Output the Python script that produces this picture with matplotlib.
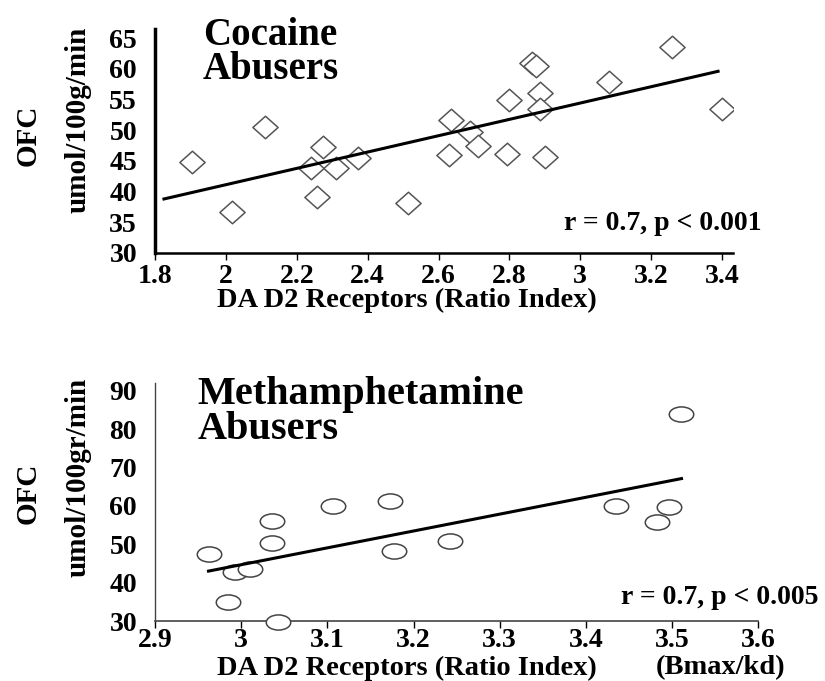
import numpy as np
import matplotlib
matplotlib.use("Agg")
import matplotlib.pyplot as plt
from matplotlib.path import Path
from matplotlib.transforms import Affine2D

plt.rcParams['font.family'] = ['Liberation Serif', 'DejaVu Serif']
plt.rcParams['font.weight'] = 'bold'

#%% data
coc_x = [1.905, 2.017, 2.11, 2.24, 2.275, 2.256, 2.31, 2.373, 2.515,
         2.635, 2.629, 2.69, 2.712, 2.793, 2.798, 2.865, 2.875, 2.885,
         2.885, 2.9, 3.08, 3.258, 3.4]
coc_y = [44.8, 36.6, 50.6, 43.9, 47.3, 39.1, 43.8, 45.5, 38.2,
         51.7, 45.9, 49.7, 47.5, 46.1, 54.9, 61.0, 60.5, 56.0,
         53.4, 45.6, 57.8, 63.6, 53.4]
coc_fit_x = [1.825, 3.389]
coc_fit_y = [38.8, 59.6]
coc_xticks = [1.8, 2, 2.2, 2.4, 2.6, 2.8, 3, 3.2, 3.4]
coc_yticks = [30, 35, 40, 45, 50, 55, 60, 65]

meth_x = [2.962, 2.993, 3.01, 2.985, 3.043, 3.036, 3.036, 3.107, 3.173,
          3.177, 3.242, 3.435, 3.482, 3.496, 3.511]
meth_y = [47.4, 42.7, 43.5, 34.9, 29.7, 50.3, 56.0, 59.9, 61.2,
          48.2, 50.8, 59.9, 55.7, 59.6, 83.8]
meth_fit_x = [2.962, 3.511]
meth_fit_y = [43.0, 67.1]
meth_xticks = [2.9, 3, 3.1, 3.2, 3.3, 3.4, 3.5, 3.6]
meth_yticks = [30, 40, 50, 60, 70, 80, 90]

# marker shapes
diamond = Path([(0, 1), (1.12, 0), (0, -1), (-1.12, 0), (0, 1)],
               [Path.MOVETO, Path.LINETO, Path.LINETO, Path.LINETO, Path.CLOSEPOLY])
ellipse = Path.unit_circle().transformed(Affine2D().scale(1.0, 0.62))

fig = plt.figure(figsize=(8.25, 6.81), dpi=100)

#%% cocaine panel
ax1 = fig.add_axes([0.188, 0.6285, 0.70, 0.329])
ax1.scatter(coc_x, coc_y, marker=diamond, s=330, facecolors='white',
            edgecolors='#555555', linewidths=1.1, zorder=3)
ax1.plot(coc_fit_x, coc_fit_y, color='black', lw=2.2, zorder=4)
ax1.set_xlim(1.8, 3.43)
ax1.set_ylim(30, 66.5)
ax1.set_xticks(coc_xticks)
ax1.set_xticklabels([f"{v:g}" for v in coc_xticks])
ax1.set_yticks(coc_yticks)
ax1.spines['top'].set_visible(False)
ax1.spines['right'].set_visible(False)
ax1.spines['left'].set_linewidth(2.5)
ax1.spines['bottom'].set_linewidth(1.8)
ax1.tick_params(axis='y', length=0, labelsize=20, pad=13)
ax1.tick_params(axis='x', length=5, width=1, direction='out', labelsize=20, pad=3)
ax1.text(0.20, 1.055, "Cocaine\nAbusers", transform=ax1.transAxes, fontsize=28,
         fontweight='bold', va='top', ha='center', linespacing=0.92, clip_on=False)
ax1.text(1.05, 0.13, "r = 0.7, p < 0.001", transform=ax1.transAxes, fontsize=20,
         fontweight='bold', ha='right', va='center')

#%% methamphetamine panel
ax2 = fig.add_axes([0.188, 0.0881, 0.731, 0.3495])
ax2.scatter(meth_x, meth_y, marker=ellipse, s=310, facecolors='white',
            edgecolors='#444444', linewidths=1.1, zorder=3, clip_on=False)
ax2.plot(meth_fit_x, meth_fit_y, color='black', lw=2.2, zorder=4)
ax2.set_xlim(2.9, 3.6)
ax2.set_ylim(30, 92)
ax2.set_xticks(meth_xticks)
ax2.set_xticklabels([f"{v:g}" for v in meth_xticks])
ax2.set_yticks(meth_yticks)
ax2.spines['top'].set_visible(False)
ax2.spines['right'].set_visible(False)
ax2.spines['left'].set_linewidth(1.0)
ax2.spines['left'].set_color('#444444')
ax2.spines['bottom'].set_linewidth(1.2)
ax2.spines['bottom'].set_color('#444444')
ax2.tick_params(axis='y', length=0, labelsize=20, pad=13)
ax2.tick_params(axis='x', length=5, width=1, direction='out', labelsize=20, pad=0)
ax2.text(0.07, 1.03, "Methamphetamine\nAbusers", transform=ax2.transAxes, fontsize=29,
         fontweight='bold', va='top', ha='left', linespacing=0.92)
ax2.text(1.10, 0.10, "r = 0.7, p < 0.005", transform=ax2.transAxes, fontsize=20,
         fontweight='bold', ha='right', va='center')

#%% axis labels
fig.text(0.034, 1 - 135 / 681, "OFC", rotation=90, fontsize=21, fontweight='bold',
         ha='center', va='center')
fig.text(0.095, 1 - 120 / 681, "umol/100g/min", rotation=90, fontsize=21,
         fontweight='bold', ha='center', va='center')
fig.text(407 / 825, 1 - 300 / 681, "DA D2 Receptors (Ratio Index)", fontsize=20.5,
         fontweight='bold', ha='center', va='center')

fig.text(0.034, 1 - 493 / 681, "OFC", rotation=90, fontsize=21, fontweight='bold',
         ha='center', va='center')
fig.text(0.095, 1 - 477 / 681, "umol/100gr/min", rotation=90, fontsize=21,
         fontweight='bold', ha='center', va='center')
fig.text(407 / 825, 1 - 668 / 681, "DA D2 Receptors (Ratio Index)", fontsize=20.5,
         fontweight='bold', ha='center', va='center')
fig.text(721 / 825, 1 - 668 / 681, "(Bmax/kd)", fontsize=20.5, fontweight='bold',
         ha='center', va='center')

fig.savefig("out.png", dpi=100, facecolor='white')
